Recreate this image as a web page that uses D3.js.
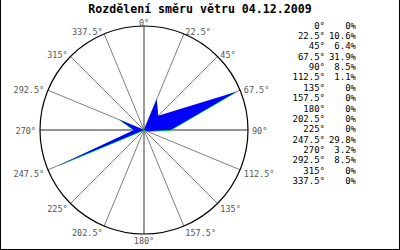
<!DOCTYPE html>
<html>
<head>
<meta charset="utf-8">
<script src="https://cdn.jsdelivr.net/npm/d3@7"></script>
<style>
  body { margin: 0; background: #fff; }
  text { font-family: "DejaVu Sans Mono", monospace; }
</style>
</head>
<body>
<div id="root"></div>
<script>
// wind direction share for 04.12.2009
let title = "Rozdělení směru větru 04.12.2009";
let directions = [0, 22.5, 45, 67.5, 90, 112.5, 135, 157.5, 180, 202.5, 225, 247.5, 270, 292.5, 315, 337.5];
let shares = [0, 10.6, 6.4, 31.9, 8.5, 1.1, 0, 0, 0, 0, 0, 29.8, 3.2, 8.5, 0, 0];

let width = 400, height = 250;
let cx = 144, cy = 130, radius = 104;

let svg = d3.select('#root').append('svg')
    .attr('width', width)
    .attr('height', height);

svg.append('rect').attr('width', width).attr('height', height).attr('fill', '#fff');

// frame (no top edge in the original)
svg.append('path')
    .attr('d', `M0.5,0 V${height - 0.5} H${width - 0.5} V0`)
    .attr('fill', 'none')
    .attr('stroke', '#000');

svg.append('text')
    .attr('x', 200)
    .attr('y', 13)
    .attr('text-anchor', 'middle')
    .style('font-size', '11.6px')
    .style('font-weight', 'bold')
    .text(title);

let toRad = d3.scaleLinear().domain([0, 360]).range([0, 2 * Math.PI]);
let r = d3.scaleLinear().domain([0, d3.max(shares)]).range([0, 100]);

let g = svg.append('g').attr('transform', `translate(${cx},${cy})`);

// spokes
g.selectAll('.spoke')
    .data(directions)
    .enter().append('line')
    .attr('class', 'spoke')
    .attr('x1', 0).attr('y1', 0)
    .attr('x2', d => radius * Math.sin(toRad(d)))
    .attr('y2', d => -radius * Math.cos(toRad(d)))
    .attr('stroke', '#707070')
    .attr('stroke-width', d => d % 90 === 0 ? 1.4 : 0.9);

g.append('circle')
    .attr('r', radius)
    .attr('fill', 'none')
    .attr('stroke', '#000')
    .attr('stroke-width', 1.2);

let area = d3.lineRadial()
    .angle((d, i) => toRad(directions[i]))
    .radius(d => r(d))
    .curve(d3.curveLinearClosed);

// green edge shows under the blue fill
g.append('path')
    .attr('d', area(shares))
    .attr('transform', 'translate(0,0.7)')
    .attr('fill', '#00ff00');

g.append('path')
    .attr('d', area(shares))
    .attr('fill', '#0000ff');

// direction labels round the circle
g.selectAll('.dirLabel')
    .data(directions)
    .enter().append('text')
    .attr('class', 'dirLabel')
    .attr('x', d => (radius + 4) * Math.sin(toRad(d)))
    .attr('y', d => -(radius + 4) * Math.cos(toRad(d)) + 1.5 + (Math.cos(toRad(d)) < -0.1 ? 1.5 : 0))
    .attr('dy', '0.35em')
    .attr('text-anchor', d => (d === 0 || d === 180) ? 'middle' : (d < 180 ? 'start' : 'end'))
    .attr('fill', '#555')
    .style('font-size', '8.5px')
    .text(d => d + '°');

// table on the right
let row = svg.selectAll('.row')
    .data(directions)
    .enter().append('g')
    .attr('class', 'row')
    .attr('transform', (d, i) => `translate(0,${28.5 + i * 10.38})`);

row.append('text')
    .attr('x', 325)
    .attr('text-anchor', 'end')
    .style('font-size', '9px')
    .text(d => d + '°');

row.append('text')
    .attr('x', 356)
    .attr('text-anchor', 'end')
    .style('font-size', '9px')
    .text((d, i) => shares[i] === 0 ? '0%' : shares[i].toFixed(1) + '%');
</script>
</body>
</html>
